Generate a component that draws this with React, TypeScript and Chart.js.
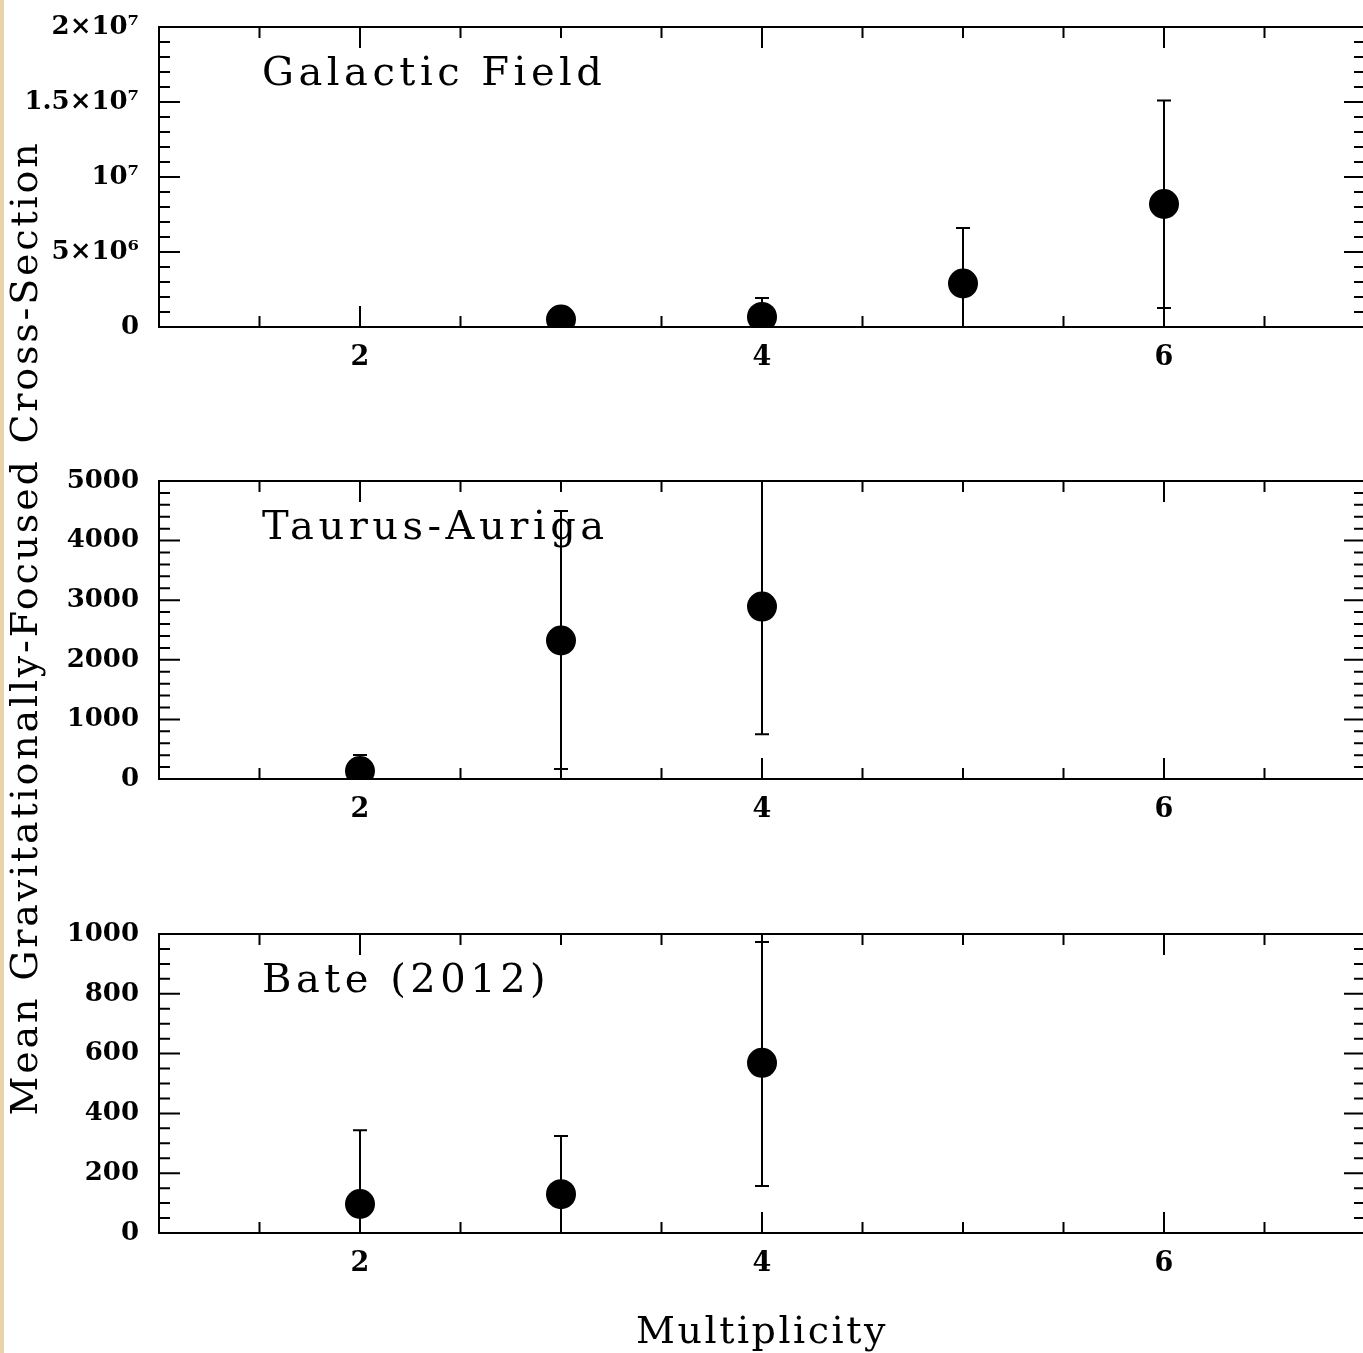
import React, { useEffect, useRef } from "react";
import { Chart, registerables } from "chart.js";

Chart.register(...registerables);

// ---------- data ----------
const xTickValues = [2, 4, 6];
const xTickLabels = ["2", "4", "6"];

const gfMultiplicity = [3, 4, 5, 6];
const gfMean = [5.0e5, 6.7e5, 2.9e6, 8.2e6];
const gfUpper = [9.0e5, 1.93e6, 6.6e6, 1.51e7];
const gfLower = [1.0e5, 0, -1.0e6, 1.27e6];
const gfTickValues = [0, 5e6, 1e7, 1.5e7, 2e7];
const gfTickLabels = ["0", "5×10⁶", "10⁷", "1.5×10⁷", "2×10⁷"];

const taMultiplicity = [2, 3, 4];
const taMean = [134, 2324, 2893];
const taUpper = [401, 4498, 5600];
const taLower = [0, 167, 752];
const taTickValues = [0, 1000, 2000, 3000, 4000, 5000];
const taTickLabels = ["0", "1000", "2000", "3000", "4000", "5000"];

const bateMultiplicity = [2, 3, 4];
const bateMean = [97, 130, 569];
const bateUpper = [344, 324, 973];
const bateLower = [-150, -60, 157];
const bateTickValues = [0, 200, 400, 600, 800, 1000];
const bateTickLabels = ["0", "200", "400", "600", "800", "1000"];

const panelNames = ["Galactic Field", "Taurus-Auriga", "Bate (2012)"];
const xTitle = "Multiplicity";
const yTitle = "Mean Gravitationally-Focused Cross-Section";

// ---------- styling ----------
const TICK_FONT = "'DejaVu Serif', serif";
const SERIF = "'DejaVu Serif', serif";
const CANVAS_W = 1380;

type PanelProps = {
  name: string;
  xs: number[];
  mean: number[];
  upper: number[];
  lower: number[];
  yMax: number;
  yTicks: number[];
  yLabels: string[];
  yMinor: number;
  yMajor: number;
  top: number;
  height: number;
  plotH: number;
  showXTitle?: boolean;
};

function Panel(p: PanelProps) {
  const ref = useRef<HTMLCanvasElement>(null);

  useEffect(() => {
    const plotTop = 27;
    const xh = p.height - plotTop - p.plotH;

    const plugin = {
      id: "frameTicks",
      beforeDatasetsDraw(chart: any) {
        const { ctx, chartArea: a, scales } = chart;
        const x = scales.x;
        const y = scales.y;
        ctx.save();
        ctx.beginPath();
        ctx.rect(a.left, a.top, a.right - a.left, a.bottom - a.top);
        ctx.clip();
        ctx.strokeStyle = "#000";
        ctx.lineWidth = 2;
        p.xs.forEach((xv, i) => {
          const px = x.getPixelForValue(xv);
          const pu = y.getPixelForValue(p.upper[i]);
          const pl = y.getPixelForValue(p.lower[i]);
          ctx.beginPath();
          ctx.moveTo(px, pu);
          ctx.lineTo(px, pl);
          ctx.moveTo(px - 7, pu);
          ctx.lineTo(px + 7, pu);
          ctx.moveTo(px - 7, pl);
          ctx.lineTo(px + 7, pl);
          ctx.stroke();
        });
        ctx.restore();
      },
      afterDraw(chart: any) {
        const { ctx, chartArea: a, scales } = chart;
        const x = scales.x;
        const y = scales.y;
        ctx.save();
        ctx.strokeStyle = "#000";
        ctx.lineWidth = 2;
        ctx.strokeRect(a.left, a.top, a.right - a.left, a.bottom - a.top);
        ctx.beginPath();
        // x ticks (major every 2, minor every 0.5)
        const xStep = 0.5, xMajor = 2;
        const nx = Math.round((x.max - x.min) / xStep);
        for (let i = 0; i <= nx; i++) {
          const v = x.min + i * xStep;
          const r = v / xMajor;
          const len = Math.abs(r - Math.round(r)) < 1e-6 ? 21 : 11;
          const px = x.getPixelForValue(v);
          ctx.moveTo(px, a.bottom);
          ctx.lineTo(px, a.bottom - len);
          ctx.moveTo(px, a.top);
          ctx.lineTo(px, a.top + len);
        }
        // y ticks
        const ny = Math.round((y.max - y.min) / p.yMinor);
        for (let i = 0; i <= ny; i++) {
          const v = y.min + i * p.yMinor;
          const r = v / p.yMajor;
          const len = Math.abs(r - Math.round(r)) < 1e-6 ? 21 : 11;
          const py = y.getPixelForValue(v);
          ctx.moveTo(a.left, py);
          ctx.lineTo(a.left + len, py);
          ctx.moveTo(a.right, py);
          ctx.lineTo(a.right - len, py);
        }
        ctx.stroke();

        // panel label
        ctx.fillStyle = "#000";
        ctx.font = `40px ${SERIF}`;
        (ctx as any).letterSpacing = "4.5px";
        ctx.textAlign = "left";
        ctx.textBaseline = "alphabetic";
        ctx.fillText(p.name, 262, a.top + 58);

        if (p.showXTitle) {
          ctx.font = `38px ${SERIF}`;
          (ctx as any).letterSpacing = "2.5px";
          ctx.textAlign = "center";
          ctx.fillText(xTitle, (a.left + a.right) / 2, chart.height - 10);
        }
        (ctx as any).letterSpacing = "0px";
        ctx.restore();
      },
    };

    const chart = new Chart(ref.current as HTMLCanvasElement, {
      type: "scatter",
      data: {
        datasets: [
          {
            data: p.xs.map((xv, i) => ({ x: xv, y: p.mean[i] })),
            pointRadius: 15,
            pointHoverRadius: 15,
            pointBackgroundColor: "#000",
            pointBorderColor: "#000",
            pointBorderWidth: 0,
            showLine: false,
          },
        ],
      },
      options: {
        animation: false,
        responsive: false,
        devicePixelRatio: 1,
        layout: {
          padding: { top: plotTop, right: CANVAS_W - 1365, left: 0, bottom: 0 },
        },
        plugins: { legend: { display: false }, tooltip: { enabled: false } },
        events: [],
        scales: {
          x: {
            type: "linear",
            min: 1,
            max: 7,
            grid: { display: false, drawTicks: false },
            border: { display: false },
            afterBuildTicks: (s: any) => {
              s.ticks = xTickValues.map((v) => ({ value: v }));
            },
            afterFit: (s: any) => {
              s.height = xh;
            },
            ticks: {
              autoSkip: false,
              maxRotation: 0,
              padding: 15,
              color: "#000",
              font: { family: TICK_FONT, size: 27, weight: "bold" },
              callback: (v: any) => {
                const idx = xTickValues.indexOf(Number(v));
                return idx >= 0 ? xTickLabels[idx] : "";
              },
            },
          },
          y: {
            type: "linear",
            min: 0,
            max: p.yMax,
            grid: {
              display: true,
              drawOnChartArea: false,
              drawTicks: true,
              tickLength: 20,
              tickColor: "rgba(0,0,0,0)",
            },
            border: { display: false },
            afterBuildTicks: (s: any) => {
              s.ticks = p.yTicks.map((v) => ({ value: v }));
            },
            afterFit: (s: any) => {
              s.width = 159;
            },
            ticks: {
              autoSkip: false,
              padding: 0,
              color: "#000",
              font: { family: TICK_FONT, size: 26, weight: "bold" },
              callback: (v: any) => {
                const idx = p.yTicks.findIndex((t) => Math.abs(t - Number(v)) < 1e-6 * Math.max(1, p.yMax));
                return idx >= 0 ? p.yLabels[idx] : "";
              },
            },
          },
        },
      } as any,
      plugins: [plugin as any],
    });
    return () => chart.destroy();
  }, []);

  return (
    <canvas
      ref={ref}
      width={CANVAS_W}
      height={p.height}
      style={{ position: "absolute", left: 0, top: p.top, display: "block" }}
    />
  );
}

export default function App() {
  return (
    <div
      style={{
        position: "absolute",
        left: 0,
        top: 0,
        width: 1363,
        height: 1353,
        overflow: "hidden",
        background: "#fff",
      }}
    >
      <Panel
        name={panelNames[0]}
        xs={gfMultiplicity}
        mean={gfMean}
        upper={gfUpper}
        lower={gfLower}
        yMax={2e7}
        yTicks={gfTickValues}
        yLabels={gfTickLabels}
        yMinor={1e6}
        yMajor={5e6}
        top={0}
        height={380}
        plotH={300}
      />
      <Panel
        name={panelNames[1]}
        xs={taMultiplicity}
        mean={taMean}
        upper={taUpper}
        lower={taLower}
        yMax={5000}
        yTicks={taTickValues}
        yLabels={taTickLabels}
        yMinor={200}
        yMajor={1000}
        top={454}
        height={380}
        plotH={298}
      />
      <Panel
        name={panelNames[2]}
        xs={bateMultiplicity}
        mean={bateMean}
        upper={bateUpper}
        lower={bateLower}
        yMax={1000}
        yTicks={bateTickValues}
        yLabels={bateTickLabels}
        yMinor={50}
        yMajor={200}
        top={907}
        height={446}
        plotH={299}
        showXTitle
      />
      <div
        style={{
          position: "absolute",
          left: 24 - 600,
          top: 628 - 24,
          width: 1200,
          height: 48,
          lineHeight: "48px",
          textAlign: "center",
          whiteSpace: "nowrap",
          fontFamily: SERIF,
          fontSize: 38,
          letterSpacing: "2.8px",
          color: "#000",
          transform: "rotate(-90deg)",
          transformOrigin: "50% 50%",
        }}
      >
        {yTitle}
      </div>
      <div
        style={{
          position: "absolute",
          left: 0,
          top: 0,
          width: 4,
          height: 1353,
          background: "#e8d4a6",
        }}
      />
    </div>
  );
}
